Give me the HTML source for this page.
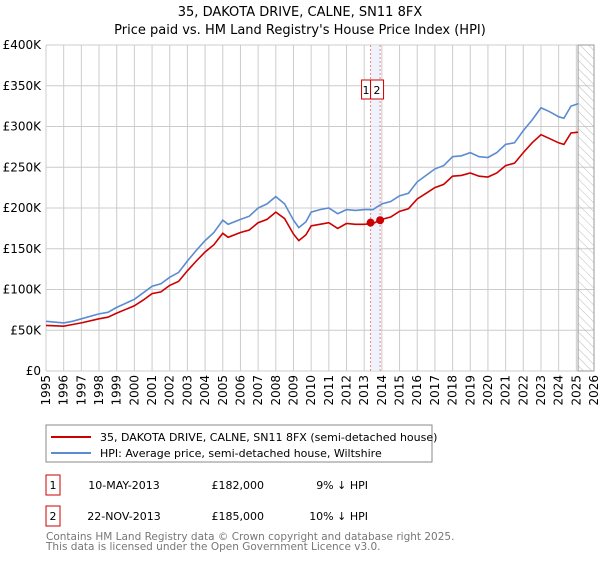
<!DOCTYPE html>
<html><head><meta charset="utf-8"><style>
body{margin:0;background:#fff;font-family:"Liberation Sans","DejaVu Sans",sans-serif;}
svg text{font-family:"DejaVu Sans","Liberation Sans",sans-serif;}
</style></head><body>
<svg id="chart" width="600" height="560" xmlns="http://www.w3.org/2000/svg">
<defs><pattern id="hatch" width="6" height="6" patternUnits="userSpaceOnUse" patternTransform="rotate(-45)"><line x1="0" y1="0" x2="0" y2="6" stroke="#bbb" stroke-width="1"/></pattern></defs>
<text x="300" y="16" text-anchor="middle" font-size="13">35, DAKOTA DRIVE, CALNE, SN11 8FX</text>
<text x="300" y="34" text-anchor="middle" font-size="13">Price paid vs. HM Land Registry's House Price Index (HPI)</text>
<g id="grid"></g><g id="marks"></g>
<rect x="46" y="425" width="386" height="37" fill="#fff" stroke="#888"/>
<line x1="51" y1="437" x2="91" y2="437" stroke="#cc0000" stroke-width="2"/>
<text x="100" y="441" font-size="11">35, DAKOTA DRIVE, CALNE, SN11 8FX (semi-detached house)</text>
<line x1="51" y1="453" x2="91" y2="453" stroke="#5b8bd0" stroke-width="2"/>
<text x="100" y="457" font-size="11">HPI: Average price, semi-detached house, Wiltshire</text>
<g font-size="11">
<rect x="46" y="475" width="14" height="20" fill="#fff" stroke="#cc0000"/><text x="53" y="489" text-anchor="middle">1</text>
<text x="124" y="489" text-anchor="middle">10-MAY-2013</text><text x="264" y="489" text-anchor="end">£182,000</text><text x="368" y="489" text-anchor="end">9% ↓ HPI</text></g>
<g font-size="11">
<rect x="46" y="506" width="14" height="20" fill="#fff" stroke="#cc0000"/><text x="53" y="520" text-anchor="middle">2</text>
<text x="124" y="520" text-anchor="middle">22-NOV-2013</text><text x="264" y="520" text-anchor="end">£185,000</text><text x="368" y="520" text-anchor="end">10% ↓ HPI</text></g>
<text x="46" y="540" font-size="10.5" fill="#777">Contains HM Land Registry data © Crown copyright and database right 2025.</text>
<text x="46" y="550" font-size="10.5" fill="#777">This data is licensed under the Open Government Licence v3.0.</text>
</svg>
<script>
const hpiYears=[1995,1996,1996.5,1997,1998,1998.5,1999,2000,2000.5,2001,2001.5,2002,2002.5,2003,2003.5,2004,2004.5,2005,2005.3,2006,2006.5,2007,2007.5,2008,2008.5,2009,2009.3,2009.7,2010,2010.5,2011,2011.5,2012,2012.5,2013,2013.5,2014,2014.5,2015,2015.5,2016,2016.5,2017,2017.5,2018,2018.5,2019,2019.5,2020,2020.5,2021,2021.5,2022,2022.5,2023,2023.5,2024,2024.3,2024.7,2025.1];
const hpiValues=[61,59,61,64,70,72,78,88,96,104,107,115,121,135,148,160,170,185,180,186,190,200,205,214,205,185,176,183,195,198,200,193,198,197,198,198,205,208,215,218,232,240,248,252,263,264,268,263,262,268,278,280,295,308,323,318,312,310,325,328];
const priceValues=[56,55,57,59,64,66,71,80,87,95,97,105,110,123,135,146,155,169,164,170,173,182,186,195,187,168,160,167,178,180,182,175,181,180,180,181,186,189,196,199,211,218,225,229,239,240,243,239,238,243,252,255,268,280,290,285,280,278,292,293];
const saleYears=[2013.36,2013.9];
const saleValues=[182,185];
const saleLabels=["1","2"];
const yTicks=[0,50,100,150,200,250,300,350,400];
const yTickLabels=["£0","£50K","£100K","£150K","£200K","£250K","£300K","£350K","£400K"];
const xTicks=[];for(let y=1995;y<=2026;y++)xTicks.push(y);
const L=46,R=594,T=45,B=371,X0=1995,X1=2026,YMAX=400;
const xs=v=>L+(v-X0)/(X1-X0)*(R-L);
const ys=v=>B-v/YMAX*(B-T);
const NS="http://www.w3.org/2000/svg";
function mk(tag,attrs,parent,text){const e=document.createElementNS(NS,tag);for(const k in attrs)e.setAttribute(k,attrs[k]);if(text!==undefined)e.textContent=text;parent.appendChild(e);return e;}
const grid=document.getElementById('grid'),marks=document.getElementById('marks');
yTicks.forEach((t,i)=>{
 const l=mk('line',{x1:L,x2:R,y1:ys(t),y2:ys(t),stroke:'#ccc'},grid);
 
 
 const tx=mk('text',{x:L-5,y:ys(t)+4,'text-anchor':'end','font-size':'12'},grid,yTickLabels[i]);
 
 
});
xTicks.forEach(t=>{
 const l=mk('line',{x1:xs(t),x2:xs(t),y1:T,y2:B,stroke:'#ccc'},grid);
 
 
 const tx=mk('text',{transform:`translate(${xs(t)+4},${B+4}) rotate(-90)`,'text-anchor':'end','font-size':'12'},grid,String(t));
 
 
});
const h=mk('rect',{x:xs(2025.1),y:T,width:R-xs(2025.1),height:B-T,fill:'url(#hatch)',stroke:'#999'},grid);


const band=mk('rect',{x:xs(saleYears[0]),y:T,width:xs(saleYears[1])-xs(saleYears[0]),height:B-T,fill:'#e8f0fb',opacity:0.7},marks);


saleYears.forEach((yr,i)=>{
 const l=mk('line',{x1:xs(yr),x2:xs(yr),y1:T,y2:B,stroke:'#f08080','stroke-dasharray':'2,2'},marks);
 
 
});
function path(vals,col,name){
 const d=hpiYears.map((y,i)=>(i?'L':'M')+xs(y).toFixed(1)+','+ys(vals[i]).toFixed(1)).join('');
 const p=mk('path',{d:d,fill:'none',stroke:col,'stroke-width':1.6},marks);
 
 
}
path(hpiValues,'#5b8bd0','hpi-line');
path(priceValues,'#cc0000','price-line');
const x1=xs(saleYears[0]);
saleYears.forEach((yr,i)=>{
 const c=mk('circle',{cx:xs(yr),cy:ys(saleValues[i]),r:4,fill:'#cc0000'},marks);
 
 
 const bx=i===0?x1-9:x1;
 const w=i===0?9:13;
 const r=mk('rect',{x:bx,y:80,width:w,height:19,fill:'#fff',stroke:'#cc0000'},marks);
 
 
 const t=mk('text',{x:bx+w/2,y:94,'text-anchor':'middle','font-size':'11'},marks,saleLabels[i]);
 
 
});
</script>
</body></html>
